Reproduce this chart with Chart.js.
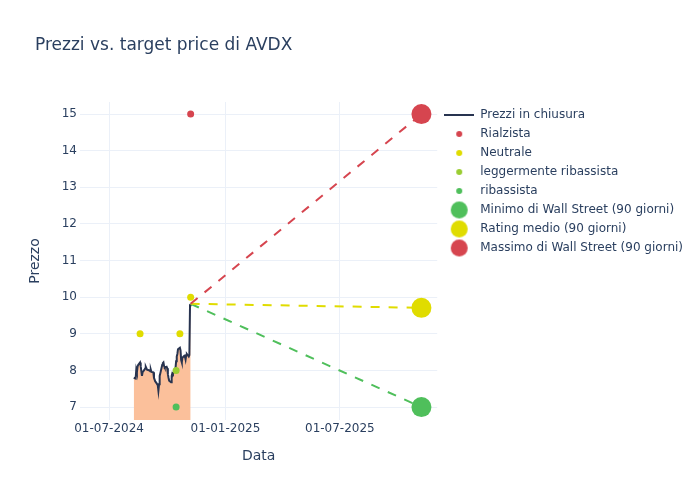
<!DOCTYPE html>
<html>
<head>
<meta charset="utf-8">
<title>Prezzi vs. target price di AVDX</title>
<script src="https://cdn.jsdelivr.net/npm/chart.js@4.4.1/dist/chart.umd.min.js"></script>
<style>
    body { margin: 0; background: #ffffff; }
    #contenitore { width: 700px; height: 500px; }
</style>
</head>
<body>
<div id="contenitore"><canvas id="grafico" width="700" height="500"></canvas></div>
<script>
// Prezzi di chiusura
var dateChiusura = [
    '2024-08-09', '2024-08-12', '2024-08-13', '2024-08-14', '2024-08-15', '2024-08-16',
    '2024-08-19', '2024-08-20', '2024-08-21', '2024-08-22', '2024-08-23',
    '2024-08-26', '2024-08-27', '2024-08-28', '2024-08-29', '2024-08-30',
    '2024-09-03', '2024-09-04', '2024-09-05', '2024-09-06',
    '2024-09-09', '2024-09-10', '2024-09-11', '2024-09-12', '2024-09-13',
    '2024-09-16', '2024-09-17', '2024-09-18', '2024-09-19', '2024-09-20',
    '2024-09-23', '2024-09-24', '2024-09-25', '2024-09-26', '2024-09-27',
    '2024-09-30', '2024-10-01', '2024-10-02', '2024-10-03', '2024-10-04',
    '2024-10-07', '2024-10-08', '2024-10-09', '2024-10-10', '2024-10-11',
    '2024-10-14', '2024-10-15', '2024-10-16', '2024-10-17', '2024-10-18',
    '2024-10-21', '2024-10-22', '2024-10-23', '2024-10-24', '2024-10-25',
    '2024-10-28', '2024-10-29', '2024-10-30', '2024-10-31', '2024-11-01',
    '2024-11-04', '2024-11-05', '2024-11-06', '2024-11-07'
];
var prezziChiusura = [
    7.80, 7.78, 8.02, 7.95, 8.10, 8.15,
    8.22, 8.12, 7.98, 7.85, 7.95,
    8.02, 8.05, 8.10, 8.06, 8.02,
    8.00, 7.98, 8.02, 7.96,
    7.95, 7.80, 7.75, 7.70, 7.68,
    7.60, 7.45, 7.62, 7.85, 7.92,
    8.15, 8.20, 8.22, 8.12, 8.08,
    8.10, 8.06, 7.90, 7.80, 7.72,
    7.68, 7.85, 7.92, 7.90, 7.95,
    8.05, 8.25, 8.38, 8.45, 8.58,
    8.62, 8.55, 8.28, 8.22, 8.35,
    8.40, 8.38, 8.30, 8.42, 8.45,
    8.38, 8.42, 9.78, 9.82
];

// Valutazioni degli analisti
var dateRialzista = ['2024-11-07'];
var valoriRialzista = [15];
var dateNeutrale = ['2024-08-19', '2024-10-21', '2024-11-07'];
var valoriNeutrale = [9, 9, 10];
var dateLeggRibassista = ['2024-10-15'];
var valoriLeggRibassista = [8];
var dateRibassista = ['2024-10-15'];
var valoriRibassista = [7];

// Target price a 90 giorni
var dataTarget = '2025-11-07';
var targetMinimo = 7;
var targetMedio = 9.71;
var targetMassimo = 15;

// Etichette degli assi
var tickDate = ['2024-07-01', '2025-01-01', '2025-07-01'];
var tickPrezzo = [7, 8, 9, 10, 11, 12, 13, 14, 15];

var testo = '#2a3f5f';
var griglia = '#ebf0f8';
var rosso = '#d6454f';
var giallo = '#e0dc00';
var verdeChiaro = '#9acd32';
var verde = '#4fbf5b';

function ms(s) {
    var p = s.split('-');
    return Date.UTC(+p[0], +p[1] - 1, +p[2]);
}
function formatoData(v) {
    var d = new Date(v);
    var gg = String(d.getUTCDate()).padStart(2, '0');
    var mm = String(d.getUTCMonth() + 1).padStart(2, '0');
    return gg + '-' + mm + '-' + d.getUTCFullYear();
}
function punti(date, valori) {
    return date.map(function (d, i) { return { x: ms(d), y: valori[i] }; });
}

var ultimaData = dateChiusura[dateChiusura.length - 1];
var ultimoPrezzo = prezziChiusura[prezziChiusura.length - 1];

function tratteggio(colore, target) {
    return {
        type: 'line',
        data: [{ x: ms(ultimaData), y: ultimoPrezzo }, { x: ms(dataTarget), y: target }],
        borderColor: colore, borderWidth: 2, borderDash: [9, 9],
        pointRadius: 0, fill: false, order: 2
    };
}
function puntiValutazione(date, valori, colore) {
    return {
        type: 'scatter',
        data: punti(date, valori),
        backgroundColor: colore, borderWidth: 0,
        pointRadius: 3.5, pointHoverRadius: 3.5, order: 1
    };
}
function grandeTarget(colore, target) {
    return {
        type: 'scatter',
        data: [{ x: ms(dataTarget), y: target }],
        backgroundColor: colore, borderWidth: 0,
        pointRadius: 10, pointHoverRadius: 10, order: 0
    };
}

// icone della legenda
function iconaPunto(colore, r) {
    var c = document.createElement('canvas');
    c.width = 2 * r + 2; c.height = 2 * r + 2;
    var g = c.getContext('2d');
    g.fillStyle = colore;
    g.beginPath(); g.arc(r + 1, r + 1, r, 0, 2 * Math.PI); g.fill();
    return c;
}
function iconaLinea(colore) {
    var c = document.createElement('canvas');
    c.width = 30; c.height = 4;
    var g = c.getContext('2d');
    g.strokeStyle = colore; g.lineWidth = 2;
    g.beginPath(); g.moveTo(0, 2); g.lineTo(30, 2); g.stroke();
    return c;
}

var datasets = [
    {
        type: 'line',
        label: 'Prezzi in chiusura',
        data: punti(dateChiusura, prezziChiusura),
        borderColor: '#283450', borderWidth: 2,
        backgroundColor: '#fbc09b', fill: 'start',
        pointRadius: 0, tension: 0, order: 3
    },
    puntiValutazione(dateRialzista, valoriRialzista, rosso),
    puntiValutazione(dateNeutrale, valoriNeutrale, giallo),
    puntiValutazione(dateLeggRibassista, valoriLeggRibassista, verdeChiaro),
    puntiValutazione(dateRibassista, valoriRibassista, verde),
    tratteggio(rosso, targetMassimo),
    tratteggio(giallo, targetMedio),
    tratteggio(verde, targetMinimo),
    grandeTarget(verde, targetMinimo),
    grandeTarget(giallo, targetMedio),
    grandeTarget(rosso, targetMassimo)
];

var voci = [
    { testo: 'Prezzi in chiusura', indice: 0, icona: iconaLinea('#283450') },
    { testo: 'Rialzista', indice: 1, icona: iconaPunto(rosso, 3) },
    { testo: 'Neutrale', indice: 2, icona: iconaPunto(giallo, 3) },
    { testo: 'leggermente ribassista', indice: 3, icona: iconaPunto(verdeChiaro, 3) },
    { testo: 'ribassista', indice: 4, icona: iconaPunto(verde, 3) },
    { testo: 'Minimo di Wall Street (90 giorni)', indice: 8, icona: iconaPunto(verde, 8.5) },
    { testo: 'Rating medio (90 giorni)', indice: 9, icona: iconaPunto(giallo, 8.5) },
    { testo: 'Massimo di Wall Street (90 giorni)', indice: 10, icona: iconaPunto(rosso, 8.5) }
];

Chart.defaults.font.family = '"DejaVu Sans", sans-serif';
Chart.defaults.color = testo;

new Chart(document.getElementById('grafico'), {
    type: 'line',
    data: { datasets: datasets },
    options: {
        responsive: false,
        animation: false,
        layout: { padding: { left: 35, right: 7, top: 0, bottom: 0 } },
        plugins: {
            title: {
                display: true,
                text: 'Prezzi vs. target price di AVDX',
                align: 'start',
                color: testo,
                font: { size: 17, weight: 'normal' },
                padding: { top: 35, bottom: 46.6 }
            },
            legend: {
                position: 'right',
                align: 'start',
                fullSize: false,
                maxWidth: 320,
                labels: {
                    usePointStyle: true,
                    pointStyleWidth: 30,
                    padding: 7,
                    color: testo,
                    font: { size: 12 },
                    generateLabels: function (chart) {
                        return voci.map(function (v) {
                            return {
                                text: v.testo,
                                pointStyle: v.icona,
                                datasetIndex: v.indice,
                                hidden: !chart.isDatasetVisible(v.indice),
                                lineWidth: 0,
                                fontColor: testo
                            };
                        });
                    }
                }
            },
            tooltip: { enabled: false }
        },
        scales: {
            x: {
                type: 'linear',
                min: ms('2024-05-16'),
                max: ms('2025-12-02'),
                afterBuildTicks: function (scale) {
                    scale.ticks = tickDate.map(function (d) { return { value: ms(d) }; });
                },
                afterFit: function (scale) { scale.height = 80; },
                ticks: {
                    callback: function (v) { return formatoData(v); },
                    color: testo, font: { size: 12 }, padding: 2,
                    maxRotation: 0, autoSkip: false
                },
                grid: { color: griglia, drawTicks: false },
                border: { display: false },
                title: {
                    display: true, text: 'Data', color: testo,
                    font: { size: 14 }, padding: { top: 4, bottom: 35.6 }
                }
            },
            y: {
                min: 6.647,
                max: 15.33,
                afterBuildTicks: function (scale) {
                    scale.ticks = tickPrezzo.map(function (v) { return { value: v }; });
                },
                afterFit: function (scale) { scale.width = 45; },
                ticks: { color: testo, font: { size: 12 }, padding: 3 },
                grid: { color: griglia, drawTicks: false },
                border: { display: false },
                title: {
                    display: true, text: 'Prezzo', color: testo,
                    font: { size: 14 }, padding: { top: -8.4, bottom: 0 }
                }
            }
        }
    }
});
</script>
</body>
</html>
